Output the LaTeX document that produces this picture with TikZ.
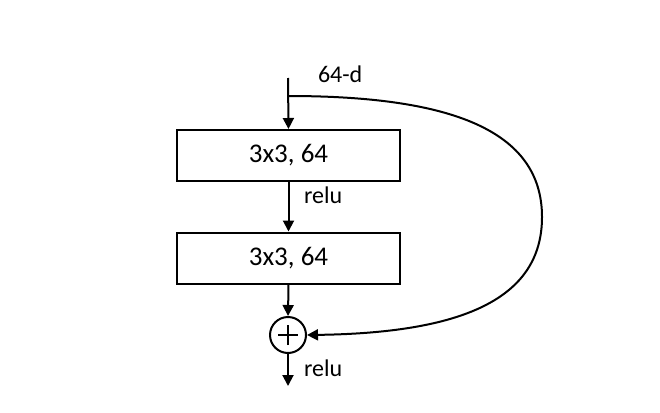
\documentclass[tikz,border=0pt]{standalone}
\usepackage{fontspec}
\setmainfont{Carlito}
\usetikzlibrary{arrows.meta}
\begin{document}
\begin{tikzpicture}[x=1pt,y=-1pt,
  line width=2pt,
  arr/.style={-{Triangle[length=11pt,width=11pt]}},
  layer/.style={draw,rectangle,minimum width=223pt,minimum height=51pt,inner sep=0pt,font=\fontsize{27}{30}\selectfont},
  lbl/.style={inner sep=0pt,anchor=base west,font=\fontsize{24}{28}\selectfont}]
\useasboundingbox (0,0) rectangle (660,412);
\coordinate (top) at (288,78);
\coordinate (branch) at (288,96);
\node[layer] (b1) at (288.5,155.5) {3x3, 64};
\node[layer] (b2) at (288.5,258) {3x3, 64};
\node[draw,circle,minimum size=36pt,inner sep=0pt] (sum) at (288,335) {};
\coordinate (bot) at (288,386);
\draw ([xshift=-10pt]sum.center) -- ([xshift=10pt]sum.center);
\draw ([yshift=-10pt]sum.center) -- ([yshift=10pt]sum.center);
\draw[arr] (top) -- (b1.north);
\draw[arr] (b1.south) -- (b2.north);
\draw[arr] (b2.south) -- (sum.north);
\draw[arr] (sum.south) -- (bot);
\draw[arr] (branch) .. controls (450,96) and (542,130) .. (542,217)
  .. controls (542,300) and (460,333) .. (sum.east);
\node[lbl] (l64) at (317,82) {64-d};
\node[lbl] (r1) at (303,203) {relu};
\node[lbl] (r2) at (303,376) {relu};
\end{tikzpicture}
\end{document}
